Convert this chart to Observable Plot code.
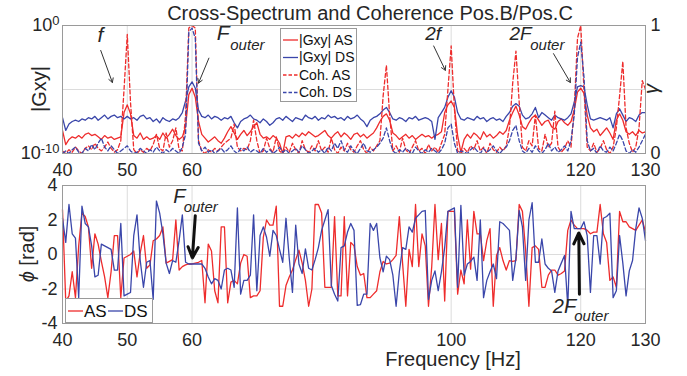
<!DOCTYPE html>
<html><head><meta charset="utf-8">
<script src="https://cdn.jsdelivr.net/npm/d3@7"></script>
<script src="https://cdn.jsdelivr.net/npm/@observablehq/plot@0.6"></script>
<style>
body{margin:0;background:#fff;}
#wrap{position:relative;width:687px;height:376px;overflow:hidden;background:#fff;}
#wrap svg{position:absolute;left:0;}
</style></head><body><div id="wrap"></div>
<script>
// ---- data (0.5 Hz bins from 40 Hz to 130 Hz) ----
const startHz = 40, stepHz = 0.5;
const xTicks = [40, 50, 60, 100, 120, 130];
const phaseTicks = [-4, -2, 0, 2, 4];

// |Gxy| as log10 values
const gxyAS_log10 = [
-8.2,-9.3,-8.9,-8.7,-8.8,-8.6,-8.8,-8.5,-8.4,-8.6,-8.5,-8.7,-8.9,-8.6,-8.8,-8.7,-8.9,-8.8,-8.7,-6.8,
-6.2,-6.9,-8.6,-8.8,-8.4,-8.9,-8.7,-8.9,-8.8,-8.6,-8.9,-8.4,-8.8,-8.5,-8.1,-8.6,-8.9,-8.7,-7.9,-5.4,
-4.9,-5.6,-7.5,-8.5,-8.8,-9.1,-8.9,-8.7,-9.0,-9.2,-8.8,-8.3,-7.9,-8.4,-8.9,-8.5,-8.2,-8.6,-8.3,-7.9,
-7.6,-8.5,-8.8,-8.7,-8.9,-8.6,-8.8,-9.2,-10.0,-8.7,-8.6,-8.8,-8.5,-8.7,-8.4,-8.6,-8.3,-8.5,-8.7,-8.6,
-8.4,-8.2,-8.6,-8.8,-8.5,-8.3,-8.7,-8.4,-8.6,-8.9,-8.5,-8.4,-8.7,-8.5,-8.8,-8.6,-8.4,-8.0,-7.5,-7.1,
-6.9,-7.4,-8.4,-8.6,-8.9,-8.7,-8.5,-8.8,-8.6,-8.9,-8.7,-8.5,-8.7,-8.6,-8.8,-8.6,-8.5,-8.3,-6.8,-6.2,
-5.9,-6.4,-8.6,-9.9,-8.9,-8.5,-8.8,-8.4,-8.6,-8.9,-8.3,-8.7,-8.5,-8.8,-8.6,-8.3,-8.5,-8.2,-7.4,-6.8,
-6.3,-7.0,-7.9,-8.1,-7.6,-7.2,-7.0,-7.4,-7.8,-7.5,-7.4,-7.9,-8.1,-7.5,-7.3,-7.6,-7.8,-7.5,-6.6,-5.2,
-4.9,-5.3,-7.0,-8.0,-8.3,-8.1,-8.6,-8.3,-8.0,-8.4,-8.9,-7.4,-6.9,-7.4,-8.3,-8.5,-8.3,-8.6,-8.2,-8.4,-8.3
];
const gxyDS_log10 = [
-7.2,-8.2,-7.7,-7.5,-7.4,-7.5,-7.3,-7.4,-7.2,-7.3,-7.1,-7.4,-7.2,-7.0,-7.3,-7.1,-7.0,-7.2,-7.1,-7.3,
-7.1,-7.3,-7.2,-7.4,-7.1,-7.0,-7.3,-7.2,-7.5,-7.3,-7.6,-7.2,-7.4,-7.5,-7.3,-7.4,-7.2,-6.8,-5.9,-4.8,
-4.4,-4.9,-6.6,-7.1,-7.2,-7.0,-7.3,-7.1,-7.2,-7.4,-7.2,-7.3,-7.1,-7.6,-8.0,-7.5,-7.3,-7.2,-7.0,-7.3,
-7.4,-7.6,-7.3,-7.5,-7.8,-7.6,-7.3,-7.2,-7.4,-7.1,-7.3,-7.5,-7.2,-7.3,-7.4,-7.0,-7.2,-7.3,-7.1,-7.4,
-7.2,-7.3,-7.0,-7.2,-7.1,-7.3,-7.2,-7.4,-7.1,-7.3,-7.2,-7.0,-7.3,-7.5,-7.9,-7.4,-7.2,-7.1,-6.9,-6.6,
-6.4,-6.8,-7.3,-7.4,-7.2,-7.3,-7.5,-7.2,-7.3,-7.1,-7.4,-7.3,-7.2,-7.3,-7.5,-8.9,-7.2,-6.8,-6.4,-5.6,
-5.1,-5.6,-6.8,-7.3,-7.4,-7.2,-7.3,-7.4,-7.1,-7.3,-7.2,-7.5,-7.3,-7.2,-7.4,-7.3,-7.5,-7.1,-6.8,-6.3,
-6.1,-6.3,-7.0,-7.3,-7.2,-6.9,-6.4,-7.2,-6.8,-7.0,-7.2,-7.4,-7.0,-7.2,-7.3,-7.4,-7.2,-6.9,-6.0,-4.8,
-4.7,-4.8,-6.2,-7.3,-7.4,-7.3,-7.2,-7.3,-7.4,-7.2,-8.0,-6.9,-6.5,-7.0,-7.5,-7.2,-7.3,-7.5,-7.0,-6.8,-6.8
];
// coherence (0..1)
const cohAS = [
0.02,0.0,0.03,0.01,0.05,0.02,0.0,0.04,0.06,0.03,0.08,0.04,0.02,0.05,0.09,0.04,0.01,0.03,0.1,0.5,
0.93,0.4,0.03,0.0,0.03,0.01,0.04,0.02,0.07,0.15,0.04,0.02,0.16,0.05,0.1,0.2,0.03,0.02,0.3,0.98,
1.0,0.98,0.1,0.02,0.0,0.03,0.01,0.04,0.02,0.05,0.08,0.1,0.12,0.23,0.05,0.02,0.04,0.03,0.1,0.26,
0.1,0.0,0.02,0.12,0.04,0.01,0.13,0.02,0.0,0.05,0.01,0.08,0.03,0.0,0.1,0.03,0.01,0.06,0.02,0.1,
0.02,0.05,0.01,0.12,0.03,0.0,0.05,0.02,0.08,0.03,0.01,0.06,0.1,0.03,0.0,0.05,0.02,0.06,0.1,0.45,
0.69,0.3,0.02,0.06,0.01,0.12,0.03,0.0,0.05,0.1,0.02,0.04,0.0,0.07,0.02,0.05,0.01,0.08,0.15,0.5,
0.84,0.35,0.02,0.0,0.04,0.01,0.06,0.03,0.1,0.02,0.05,0.0,0.08,0.03,0.01,0.05,0.02,0.06,0.2,0.55,
0.8,0.4,0.05,0.02,0.1,0.06,0.3,0.04,0.02,0.15,0.05,0.08,0.33,0.05,0.01,0.04,0.1,0.05,0.35,0.9,
1.0,0.5,0.05,0.02,0.08,0.01,0.04,0.1,0.03,0.0,0.05,0.2,0.45,0.72,0.2,0.08,0.01,0.05,0.2,0.57,0.5
];
const cohDS = [
0.0,0.02,0.0,0.03,0.05,0.01,0.0,0.04,0.02,0.07,0.03,0.08,0.12,0.05,0.02,0.06,0.03,0.0,0.02,0.04,
0.06,0.02,0.0,0.01,0.04,0.02,0.0,0.03,0.01,0.05,0.02,0.0,0.03,0.01,0.04,0.02,0.0,0.05,0.15,0.95,
0.98,0.9,0.08,0.02,0.05,0.01,0.03,0.0,0.02,0.04,0.01,0.03,0.06,0.02,0.0,0.04,0.02,0.05,0.01,0.03,
0.02,0.0,0.04,0.01,0.03,0.0,0.02,0.05,0.01,0.03,0.0,0.02,0.04,0.01,0.06,0.03,0.0,0.02,0.04,0.01,
0.03,0.0,0.05,0.02,0.08,0.04,0.1,0.03,0.01,0.06,0.02,0.0,0.04,0.08,0.02,0.01,0.03,0.05,0.08,0.12,
0.2,0.1,0.02,0.0,0.03,0.01,0.04,0.02,0.0,0.05,0.02,0.0,0.03,0.01,0.04,0.02,0.0,0.03,0.08,0.2,
0.23,0.08,0.0,0.02,0.01,0.0,0.03,0.05,0.02,0.0,0.04,0.01,0.03,0.06,0.02,0.0,0.03,0.05,0.1,0.18,
0.22,0.1,0.02,0.0,0.04,0.01,0.06,0.02,0.0,0.03,0.08,0.02,0.05,0.01,0.03,0.06,0.02,0.1,0.3,0.75,
0.87,0.6,0.1,0.02,0.04,0.0,0.06,0.02,0.01,0.05,0.02,0.08,0.15,0.1,0.02,0.0,0.03,0.01,0.05,0.1,0.15
];
// phase (rad)
const phaseAS = [
2.6,-2.7,-2.4,-1.0,-2.5,0.5,2.4,2.2,1.6,-0.8,1.2,0.6,-0.4,-1.3,-2.5,-1.0,1.1,1.1,-2.5,-0.2,
-0.1,0.0,0.2,-1.3,0.1,1.1,-0.8,-0.6,0.8,0.9,1.1,1.6,-0.5,-0.4,-0.3,2.0,-0.9,-0.7,-0.6,-0.55,
-0.55,-0.5,-0.45,-0.35,-2.8,0.6,0.2,-2.1,-2.8,1.6,1.6,-2.8,-1.6,-1.5,-1.7,-0.5,0.0,-0.1,-2.5,-2.4,
-2.4,-2.1,1.0,2.0,1.7,1.7,2.8,-3.0,-3.0,-1.8,-1.3,-0.9,-0.3,0.25,-0.5,-1.5,-3.0,-2.0,2.9,2.9,
2.4,-1.9,-1.9,-1.9,2.2,-2.4,-2.4,2.2,-2.4,0.7,0.5,-0.7,-1.2,-1.1,-2.5,-2.5,-2.3,-2.1,-1.0,-0.4,
-0.55,-0.5,-0.3,-0.05,2.2,-0.5,-3.0,0.3,-0.7,2.9,-0.7,1.2,0.5,-3.0,-0.7,2.9,-0.3,1.8,-2.7,2.5,
2.5,2.5,-2.3,-0.9,-1.7,2.0,-0.85,2.5,1.2,1.2,-0.35,0.8,1.5,-3.0,-0.06,0.4,-0.35,-0.9,-0.35,-0.4,
-0.35,2.9,2.5,0.2,-3.0,0.4,0.5,0.3,-1.9,-1.9,-1.2,-0.9,-0.9,-1.2,-1.1,-0.95,1.4,2.0,1.7,1.5,
1.5,1.5,1.4,1.2,1.3,1.3,2.9,1.2,0.7,-1.5,-1.3,-1.9,2.5,1.9,1.9,1.6,1.5,1.4,1.7,2.0,1.3
];
const phaseDS = [
2.1,0.7,2.9,1.2,0.95,-2.5,2.8,1.8,1.6,0.5,-1.3,-1.2,0.6,0.5,0.4,0.3,-0.9,-0.9,1.8,-2.4,
-2.3,-2.2,1.1,2.3,-0.35,-1.9,-0.45,-0.35,-2.6,3.1,2.4,1.2,-0.5,-1.1,-0.35,-0.45,0.8,2.3,-0.45,-0.55,
-0.55,-0.55,-0.55,-0.55,-0.8,-1.3,-1.7,-1.4,-1.5,-2.0,-0.9,-0.8,-0.9,-1.9,2.7,-2.3,-1.5,-1.5,-1.2,2.3,
-2.1,1.1,1.6,1.0,-0.1,1.4,1.1,0.3,-0.45,2.1,-0.2,-2.2,1.7,-0.55,-1.1,0.33,-0.8,-0.9,-0.3,0.4,
1.4,2.0,2.6,-1.8,-2.3,-2.7,0.4,0.5,1.3,1.8,1.4,-2.95,-2.9,-2.3,-2.3,1.8,1.4,1.8,-0.2,-1.0,
-0.1,-0.3,-1.2,-3.0,-1.0,0.4,0.3,1.6,1.3,2.1,2.3,2.5,2.55,-2.6,-1.5,-0.95,-2.1,-1.0,0.4,2.5,
2.6,2.7,-1.9,2.85,-1.2,-0.55,-0.4,-0.15,-1.5,2.0,-2.5,-1.5,-1.0,-0.55,-1.4,1.9,1.8,1.6,1.4,-1.5,
-0.2,2.55,1.6,-1.5,2.0,3.0,-0.45,-0.45,0.9,-0.55,-0.8,-0.95,-2.2,-0.95,-0.5,-0.06,-3.0,2.5,1.5,1.5,
1.5,1.9,1.1,-2.2,1.1,1.1,-0.55,2.1,2.2,2.4,-2.5,-2.1,1.1,-0.5,-2.4,-0.95,-0.35,1.5,2.7,2.1,0.8
];

// annotations (data coordinates: Hz, log10|Gxy| or rad)
const topLabels = [
  {f: 45.4, e: -1.3, text: "f", size: 21},
  {f: 63.8, e: -1.15, text: "F", size: 21},
  {f: 65.9, e: -1.95, text: "outer", size: 15},
  {f: 96.0, e: -1.15, text: "2f", size: 19},
  {f: 109.0, e: -1.15, text: "2F", size: 19},
  {f: 112.2, e: -1.95, text: "outer", size: 15}
];
const topArrows = [
  {f1: 45.9, e1: -1.95, f2: 47.7, e2: -4.45},
  {f1: 62.6, e1: -2.55, f2: 61.0, e2: -4.5},
  {f1: 97.3, e1: -1.6, f2: 99.1, e2: -3.5},
  {f1: 115.8, e1: -2.2, f2: 118.4, e2: -4.45}
];
const botLabels = [
  {f: 57.1, p: 3.0, text: "F", size: 20},
  {f: 58.7, p: 2.45, text: "outer", size: 15},
  {f: 115.7, p: -3.4, text: "2F", size: 20},
  {f: 119.0, p: -3.85, text: "outer", size: 15}
];
const botArrows = [
  {f1: 60.5, p1: 2.25, f2: 60.05, p2: -0.2},
  {f1: 119.8, p1: -2.3, f2: 119.7, p2: 1.25}
];

// ---- build ----
const RED = "#ee2c2c", BLUE = "#3a46aa";
const FONT = "'Liberation Sans', Arial, Helvetica, sans-serif";
const INK = "#262626";
const rows = gxyAS_log10.map((_, i) => ({
  f: startHz + stepHz * i,
  gAS: 10 ** gxyAS_log10[i], gDS: 10 ** gxyDS_log10[i],
  cAS: cohAS[i], cDS: cohDS[i],
  pAS: phaseAS[i], pDS: phaseDS[i]
}));
// coherence (0..1) shares the vertical space of the log |Gxy| axis (1e-10 .. 1e0)
const cohToY = c => 10 ** (-10 + 10 * c);

const topPlot = Plot.plot({
  width: 687, height: 178,
  marginTop: 25, marginBottom: 25, marginLeft: 62, marginRight: 42,
  style: {fontFamily: FONT, fontSize: "18px", color: INK, background: "none", overflow: "visible"},
  x: {domain: [40, 130]},
  y: {type: "log", domain: [1e-10, 1]},
  marks: [
    Plot.gridX(xTicks, {stroke: "#dcdcdc", strokeOpacity: 1}),
    Plot.gridY([1e-5], {stroke: "#dcdcdc", strokeOpacity: 1}),
    Plot.line(rows, {x: "f", y: "gAS", stroke: RED, strokeWidth: 1.3, clip: true}),
    Plot.line(rows, {x: "f", y: "gDS", stroke: BLUE, strokeWidth: 1.3, clip: true}),
    Plot.line(rows, {x: "f", y: d => cohToY(d.cAS), stroke: RED, strokeWidth: 1.3, strokeDasharray: "4,2.5", clip: true}),
    Plot.line(rows, {x: "f", y: d => cohToY(d.cDS), stroke: BLUE, strokeWidth: 1.3, strokeDasharray: "4,2.5", clip: true}),
    Plot.frame({stroke: "#9a9a9a"}),
    Plot.axisX({ticks: xTicks, tickSize: 0, tickPadding: 10, label: null, tickFormat: d => String(d)}),
    Plot.axisY({anchor: "left", ticks: [1e-10, 1], tickSize: 0, tickPadding: 3, label: null,
      tickFormat: d => d >= 0.5 ? "10^0" : "10^-10"}),
    Plot.axisY({anchor: "right", ticks: [1e-10, 1], tickSize: 0, tickPadding: 5, label: null,
      tickFormat: d => d >= 0.5 ? "1" : "0"}),
    Plot.text(topLabels, {x: "f", y: d => 10 ** d.e, text: "text", fontSize: "size", fontStyle: "italic",
      textAnchor: "start", lineAnchor: "bottom", fill: INK}),
    Plot.arrow(topArrows, {x1: "f1", y1: d => 10 ** d.e1, x2: "f2", y2: d => 10 ** d.e2,
      stroke: "#333", strokeWidth: 1, headLength: 7})
  ]
});

const botPlot = Plot.plot({
  width: 687, height: 206,
  marginTop: 15, marginBottom: 53, marginLeft: 62, marginRight: 42,
  style: {fontFamily: FONT, fontSize: "18px", color: INK, background: "none", overflow: "visible"},
  x: {domain: [40, 130]},
  y: {domain: [-4, 4]},
  marks: [
    Plot.gridX(xTicks, {stroke: "#dcdcdc", strokeOpacity: 1}),
    Plot.gridY([-2, 0, 2], {stroke: "#dcdcdc", strokeOpacity: 1}),
    Plot.line(rows, {x: "f", y: "pAS", stroke: RED, strokeWidth: 1.3}),
    Plot.line(rows, {x: "f", y: "pDS", stroke: BLUE, strokeWidth: 1.3}),
    Plot.frame({stroke: "#9a9a9a"}),
    Plot.axisX({ticks: xTicks, tickSize: 0, tickPadding: 10, label: null, tickFormat: d => String(d)}),
    Plot.axisY({ticks: phaseTicks, tickSize: 0, tickPadding: 5, label: null, tickFormat: d => String(d)}),
    Plot.text(botLabels, {x: "f", y: "p", text: "text", fontSize: "size", fontStyle: "italic",
      textAnchor: "start", lineAnchor: "bottom", fill: INK}),
    Plot.arrow(botArrows, {x1: "f1", y1: "p1", x2: "f2", y2: "p2",
      stroke: "#111", strokeWidth: 3, headLength: 6, headAngle: 50})
  ]
});

const wrap = document.getElementById("wrap");
botPlot.style.top = "170px";
topPlot.style.top = "0px";
wrap.appendChild(botPlot);
wrap.appendChild(topPlot);

// superscript tick labels 10^n
d3.select(topPlot).selectAll("text").each(function () {
  const m = /^10\^(.+)$/.exec(this.textContent);
  if (!m) return;
  const s = d3.select(this);
  s.text(null);
  s.append("tspan").text("10");
  s.append("tspan").attr("dy", "-0.5em").attr("font-size", "13px").text(m[1]);
});

// titles / axis labels
const ts = d3.select(topPlot);
ts.append("text").attr("x", 370).attr("y", 20).attr("text-anchor", "middle")
  .attr("font-size", 20).attr("fill", INK).attr("font-family", FONT)
  .text("Cross-Spectrum and Coherence Pos.B/Pos.C");
ts.append("text").attr("transform", "translate(46,89) rotate(-90)").attr("text-anchor", "middle")
  .attr("font-size", 20).attr("fill", INK).attr("font-family", FONT).text("|Gxy|");
ts.append("text").attr("transform", "translate(658,89) rotate(-90)").attr("text-anchor", "middle")
  .attr("font-size", 20).attr("fill", INK).attr("font-family", FONT).attr("font-style", "italic").text("γ");

// top legend
const lg = ts.append("g").attr("font-family", FONT).attr("font-size", 14).attr("fill", "#111")
  .attr("text-anchor", "start");
lg.append("rect").attr("x", 280.5).attr("y", 28.5).attr("width", 76).attr("height", 73)
  .attr("fill", "#fff").attr("stroke", "#9a9a9a");
const legItems = [
  {t: "|Gxy| AS", c: RED, dash: null},
  {t: "|Gxy| DS", c: BLUE, dash: null},
  {t: "Coh. AS", c: RED, dash: "3.5,2"},
  {t: "Coh. DS", c: BLUE, dash: "3.5,2"}
];
legItems.forEach((d, i) => {
  const y = 40 + i * 17.5;
  lg.append("line").attr("x1", 283).attr("x2", 298).attr("y1", y).attr("y2", y)
    .attr("stroke", d.c).attr("stroke-width", 1.3).attr("stroke-dasharray", d.dash);
  lg.append("text").attr("x", 299).attr("y", y).attr("dy", "0.35em").attr("text-anchor", "start").text(d.t);
});

const bs = d3.select(botPlot);
bs.append("text").attr("transform", "translate(34,84) rotate(-90)").attr("text-anchor", "middle")
  .attr("font-size", 20).attr("fill", INK).attr("font-family", FONT)
  .call(t => { t.append("tspan").attr("font-style", "italic").text("ϕ"); t.append("tspan").text(" [rad]"); });
bs.append("text").attr("x", 453).attr("y", 196).attr("text-anchor", "middle")
  .attr("font-size", 20).attr("fill", INK).attr("font-family", FONT).text("Frequency [Hz]");

// bottom legend
const bl = bs.append("g").attr("font-family", FONT).attr("font-size", 17).attr("fill", "#111")
  .attr("text-anchor", "start");
bl.append("rect").attr("x", 65.5).attr("y", 128.5).attr("width", 87).attr("height", 24)
  .attr("fill", "#fff").attr("stroke", "#9a9a9a");
[{t: "AS", c: RED, x: 68}, {t: "DS", c: BLUE, x: 108}].forEach(d => {
  bl.append("line").attr("x1", d.x).attr("x2", d.x + 15).attr("y1", 141).attr("y2", 141)
    .attr("stroke", d.c).attr("stroke-width", 1.3);
  bl.append("text").attr("x", d.x + 16).attr("y", 141).attr("dy", "0.36em").attr("text-anchor", "start").text(d.t);
});
</script></body></html>
